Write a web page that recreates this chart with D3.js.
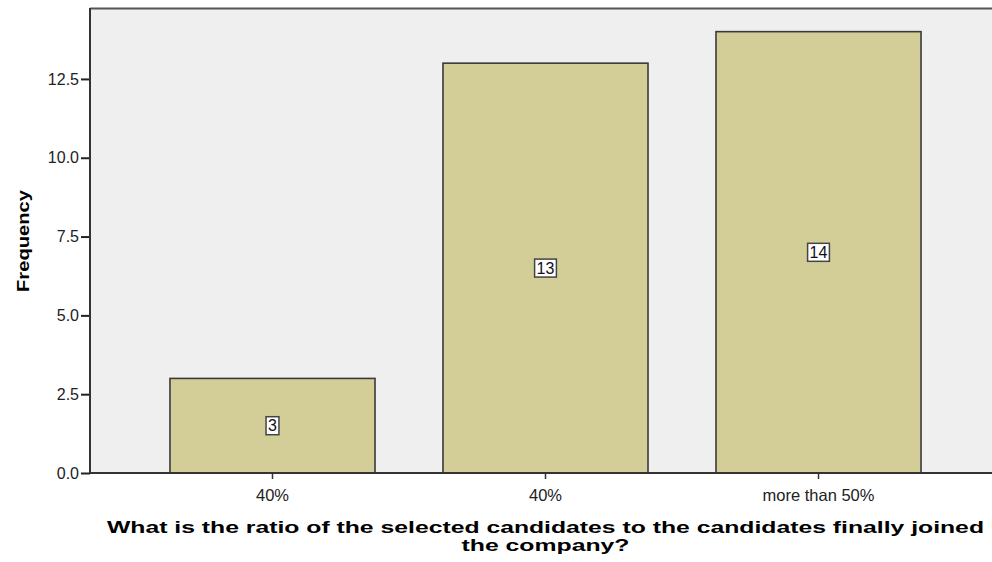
<!DOCTYPE html>
<html><head><meta charset="utf-8">
<script src="https://cdn.jsdelivr.net/npm/d3@7"></script>
<style>body{margin:0;background:#fff;} svg{display:block;}</style>
</head><body>
<svg id="c" width="992" height="562"></svg>
<script>
const categories = ["40%", "40%", "more than 50%"];
const categoryIds = ["a", "b", "c"];
const frequencies = [3, 13, 14];
const yTicks = [0, 2.5, 5, 7.5, 10, 12.5];
const yTitle = "Frequency";
const xTitleLines = ["What is the ratio of the selected candidates to the candidates finally joined", "the company?"];

const svg = d3.select("#c");
const plot = {left: 90, top: 8, right: 992, bottom: 473};
const FONT = "Liberation Sans, Arial, sans-serif";

const y = d3.scaleLinear().domain([0, 14.75]).range([plot.bottom, plot.top]);
const x = d3.scaleBand().domain(categoryIds).range([102, 989]).padding(0.249);

svg.append("rect").attr("x", plot.left).attr("y", plot.top)
  .attr("width", plot.right - plot.left).attr("height", plot.bottom - plot.top)
  .attr("fill", "#efefef");
svg.append("line").attr("x1", plot.left).attr("x2", plot.right)
  .attr("y1", plot.top + 0.5).attr("y2", plot.top + 0.5)
  .attr("stroke", "#555").attr("stroke-width", 2);

svg.selectAll("rect.bar").data(frequencies).join("rect").attr("class", "bar")
  .attr("x", (d, i) => x(categoryIds[i]))
  .attr("y", d => y(d))
  .attr("width", x.bandwidth())
  .attr("height", d => y(0) - y(d))
  .attr("fill", "#d3cd97").attr("stroke", "#3a3a3a").attr("stroke-width", 1.6);

// value labels
const lab = svg.selectAll("g.lab").data(frequencies).join("g").attr("class", "lab")
  .attr("transform", (d, i) => `translate(${x(categoryIds[i]) + x.bandwidth() / 2},${y(d / 2)})`);
lab.each(function(d) {
  const g = d3.select(this);
  const t = g.append("text").text(d).attr("text-anchor", "middle").attr("dy", "0.36em")
    .attr("font-family", FONT).attr("font-size", 16).attr("fill", "#111");
  const w = t.node().getComputedTextLength();
  g.insert("rect", "text").attr("x", -w / 2 - 2).attr("y", -9).attr("width", w + 4).attr("height", 18)
    .attr("fill", "#fff").attr("stroke", "#444").attr("stroke-width", 1.5);
});

// y axis
const yAxis = d3.axisLeft(y).tickValues(yTicks).tickFormat(d3.format(".1f")).tickSize(9).tickSizeOuter(0);
const ya = svg.append("g").attr("transform", `translate(${plot.left},0)`).call(yAxis);
ya.select(".domain").remove();
ya.selectAll(".tick line").attr("stroke", "#222").attr("stroke-width", 2);
ya.selectAll(".tick text").attr("font-family", FONT)
  .attr("font-size", 16).attr("fill", "#222").attr("x", -11);
svg.append("line").attr("x1", plot.left).attr("x2", plot.left).attr("y1", plot.top).attr("y2", plot.bottom)
  .attr("stroke", "#333").attr("stroke-width", 2);

// x axis
const xAxis = d3.axisBottom(x).tickFormat((d, i) => categories[i]).tickSize(6).tickSizeOuter(0);
const xa = svg.append("g").attr("transform", `translate(0,${plot.bottom})`).call(xAxis);
xa.select(".domain").remove();
xa.selectAll(".tick line").attr("stroke", "#333").attr("stroke-width", 1.5);
xa.selectAll(".tick text").attr("font-family", FONT)
  .attr("font-size", 16.5).attr("fill", "#222").attr("dy", 0).attr("y", 28);
svg.append("line").attr("x1", plot.left).attr("x2", plot.right).attr("y1", plot.bottom).attr("y2", plot.bottom)
  .attr("stroke", "#333").attr("stroke-width", 2);

// titles
svg.append("text").text(yTitle)
  .attr("transform", `translate(29,241) rotate(-90)`).attr("text-anchor", "middle")
  .attr("font-family", FONT).attr("font-weight", "bold")
  .attr("font-size", 17).attr("fill", "#000")
  .attr("textLength", 102).attr("lengthAdjust", "spacingAndGlyphs");

const cx = (x(categoryIds[0]) + x(categoryIds[2]) + x.bandwidth()) / 2;
svg.append("text").text(xTitleLines[0]).attr("x", cx).attr("y", 533).attr("text-anchor", "middle")
  .attr("font-family", FONT).attr("font-weight", "bold")
  .attr("font-size", 16.5).attr("fill", "#000")
  .attr("textLength", 877).attr("lengthAdjust", "spacingAndGlyphs");
svg.append("text").text(xTitleLines[1]).attr("x", cx).attr("y", 551).attr("text-anchor", "middle")
  .attr("font-family", FONT).attr("font-weight", "bold")
  .attr("font-size", 16.5).attr("fill", "#000")
  .attr("textLength", 168).attr("lengthAdjust", "spacingAndGlyphs");
</script>
</body></html>
